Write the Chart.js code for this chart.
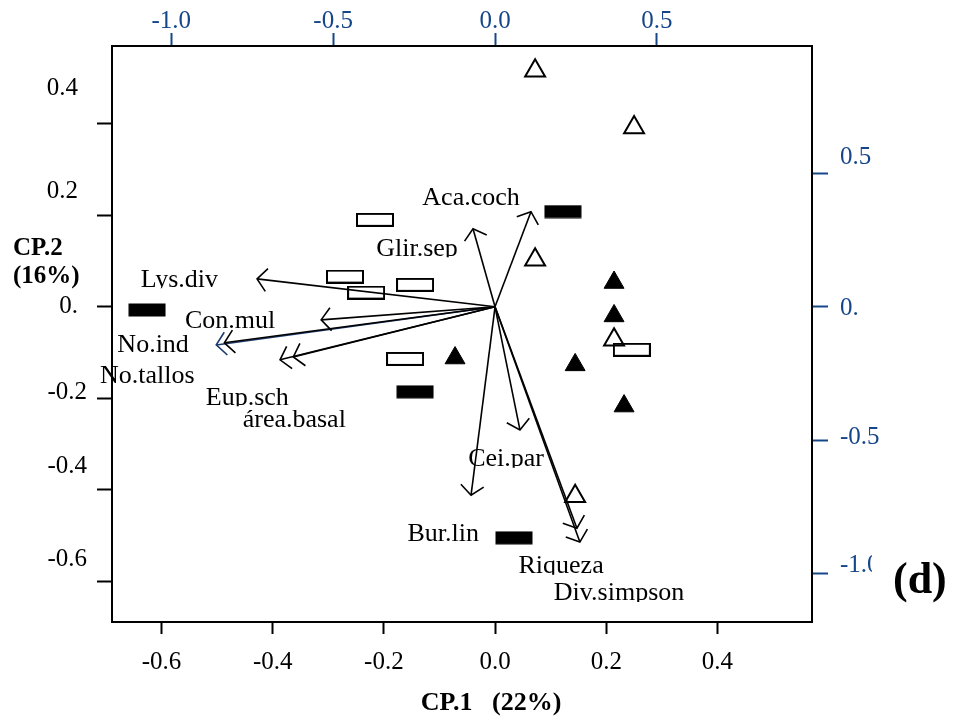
<!DOCTYPE html>
<html lang="es">
<head>
<meta charset="utf-8">
<title>Biplot CP.1 / CP.2</title>
<script src="https://cdn.jsdelivr.net/npm/chart.js@4/dist/chart.umd.min.js"></script>
<style>
  html, body { margin: 0; padding: 0; background: #fff; }
  canvas { display: block; }
</style>
</head>
<body>
<canvas id="biplot" width="954" height="718"></canvas>
<script>
// ---- axis ticks ----
const SCORE_TICKS = [-0.6, -0.4, -0.2, 0, 0.2, 0.4];
const X_TICK_LABELS = ['-0.6', '-0.4', '-0.2', '0.0', '0.2', '0.4'];
const Y_TICK_LABELS = ['-0.6', '-0.4', '-0.2', '0.', '0.2', '0.4'];
const LOAD_TICKS = [-1.0, -0.5, 0, 0.5];
const TOP_TICK_LABELS = ['-1.0', '-0.5', '0.0', '0.5'];
const RIGHT_TICK_LABELS = ['-1.0', '-0.5', '0.', '0.5'];
const SCORE_RANGE = [-0.689, 0.570];
const LOAD_RANGE = [-1.183, 0.979];

// ---- site scores (CP.1, CP.2) by group ----
const openTriX = [0.072, 0.250, 0.072, 0.214, 0.144];
const openTriY = [0.516, 0.392, 0.103, -0.072, -0.414];
const solidTriX = [0.214, 0.214, 0.144, 0.232, -0.072];
const solidTriY = [0.053, -0.020, -0.127, -0.217, -0.112];
const openRectX = [-0.270, -0.232, -0.144, -0.162, -0.216, 0.246];
const openRectY = [0.066, 0.031, 0.048, -0.114, 0.190, -0.094];
const solidRectX = [-0.626, -0.144, 0.122, 0.034];
const solidRectY = [-0.007, -0.186, 0.208, -0.505];

// ---- variable loadings ----
const varNames = ['Lys.div', 'Con.mul', 'No.ind', 'No.tallos', 'Eup.sch', 'área.basal',
                  'Glir.sep', 'Aca.coch', 'Cei.par', 'Bur.lin', 'Riqueza', 'Div.simpson'];
const varCP1 = [-0.735, -0.537, -0.861, -0.836, -0.664, -0.623, -0.068, 0.111, 0.077, -0.074, 0.253, 0.262];
const varCP2 = [0.105, -0.049, -0.143, -0.135, -0.199, -0.188, 0.293, 0.357, -0.462, -0.707, -0.831, -0.883];

// ---- layout / style ----
// text baseline anchor of each variable name, in loading units
const LABEL_AT = [
  [-0.975, 0.075], [-0.818, -0.079], [-1.056, -0.169], [-1.074, -0.286], [-0.765, -0.368], [-0.620, -0.451],
  [-0.241, 0.192], [-0.074, 0.383], [0.034, -0.598], [-0.160, -0.880], [0.204, -1.000], [0.383, -1.102]
];
const LEFT_NUDGE = [[-25, -22], [-25, -23], [-25, -6], [-34, 0], [-34, -24], [-34, -35]];
const RIGHT_NUDGE = [-8, -3, 2, -16];
const BLUE = '#16468a';
const SERIF = '"Liberation Serif", "Times New Roman", serif';
const HEAD_LEN = 15;
const HEAD_ANGLE = 50 * Math.PI / 180;

Chart.defaults.font.family = SERIF;

// flat box markers for the rectangle groups
function boxMarker(filled) {
  const c = document.createElement('canvas');
  c.width = 38;
  c.height = 14;
  const g = c.getContext('2d');
  if (filled) {
    g.fillStyle = '#000';
    g.fillRect(0.5, 0.5, 37, 13);
  } else {
    g.strokeStyle = '#000';
    g.lineWidth = 2;
    g.strokeRect(1, 1, 36, 12);
  }
  return c;
}

const toPoints = (xs, ys) => xs.map((x, i) => ({ x, y: ys[i] }));

const scoreSets = [
  { data: toPoints(openTriX, openTriY), pointStyle: 'triangle', pointRadius: 11.5,
    pointBackgroundColor: 'rgba(255,255,255,0)', pointBorderColor: '#000', pointBorderWidth: 2 },
  { data: toPoints(solidTriX, solidTriY), pointStyle: 'triangle', pointRadius: 11.5,
    pointBackgroundColor: '#000', pointBorderColor: '#000', pointBorderWidth: 1 },
  { data: toPoints(openRectX, openRectY), pointStyle: boxMarker(false), pointRadius: 6 },
  { data: toPoints(solidRectX, solidRectY), pointStyle: boxMarker(true), pointRadius: 6 }
].map(ds => ({ ...ds, xAxisID: 'x', yAxisID: 'y', showLine: false, order: 2 }));

const arrowSets = varNames.map((name, i) => ({
  label: name,
  isArrow: true,
  data: [{ x: 0, y: 0 }, { x: varCP1[i], y: varCP2[i] }],
  xAxisID: 'x2',
  yAxisID: 'y2',
  showLine: true,
  borderColor: name === 'No.ind' ? '#1d3a6b' : '#000',
  borderWidth: 1.6,
  pointRadius: 0,
  order: name === 'No.ind' ? 1 : 0
}));

// open arrowheads, variable names, side tick labels and titles
const biplotDecor = {
  id: 'biplotDecor',
  afterDatasetsDraw(chart) {
    const ctx = chart.ctx;
    chart.data.datasets.forEach((ds, i) => {
      if (!ds.isArrow) return;
      const [a, b] = chart.getDatasetMeta(i).data;
      const ang = Math.atan2(b.y - a.y, b.x - a.x);
      ctx.save();
      ctx.strokeStyle = ds.borderColor;
      ctx.lineWidth = ds.borderWidth;
      ctx.beginPath();
      ctx.moveTo(b.x - HEAD_LEN * Math.cos(ang - HEAD_ANGLE), b.y - HEAD_LEN * Math.sin(ang - HEAD_ANGLE));
      ctx.lineTo(b.x, b.y);
      ctx.lineTo(b.x - HEAD_LEN * Math.cos(ang + HEAD_ANGLE), b.y - HEAD_LEN * Math.sin(ang + HEAD_ANGLE));
      ctx.stroke();
      ctx.restore();
    });
  },
  afterDraw(chart) {
    const { ctx, chartArea: area, scales } = chart;
    ctx.save();

    // left axis labels (site scores)
    ctx.font = '25px ' + SERIF;
    ctx.textBaseline = 'middle';
    ctx.textAlign = 'right';
    ctx.fillStyle = '#000';
    SCORE_TICKS.forEach((v, i) => {
      const [dx, dy] = LEFT_NUDGE[i];
      ctx.fillText(Y_TICK_LABELS[i], area.left + dx, scales.y.getPixelForValue(v) + dy);
    });

    // right axis labels (loadings)
    ctx.textAlign = 'left';
    ctx.fillStyle = BLUE;
    LOAD_TICKS.forEach((v, i) => {
      ctx.fillText(RIGHT_TICK_LABELS[i], area.right + 28, scales.y2.getPixelForValue(v) + RIGHT_NUDGE[i]);
    });

    // variable names, cut just under the baseline
    ctx.font = '26px ' + SERIF;
    ctx.textAlign = 'center';
    ctx.textBaseline = 'alphabetic';
    ctx.fillStyle = '#000';
    varNames.forEach((name, i) => {
      const x = scales.x2.getPixelForValue(LABEL_AT[i][0]);
      const y = scales.y2.getPixelForValue(LABEL_AT[i][1]);
      const w = ctx.measureText(name).width;
      ctx.save();
      ctx.beginPath();
      ctx.rect(x - w / 2 - 2, y - 30, w + 4, 31.5);
      ctx.clip();
      ctx.fillText(name, x, y);
      ctx.restore();
    });

    // axis titles
    ctx.font = 'bold 25px ' + SERIF;
    ctx.textAlign = 'left';
    ctx.fillText('CP.2', 13, 255);
    ctx.fillText('(16%)', 13, 283);
    ctx.font = 'bold 26px ' + SERIF;
    ctx.textAlign = 'center';
    ctx.fillText('CP.1   (22%)', 491, 710);

    // panel tag
    ctx.fillStyle = '#fff';
    ctx.fillRect(872, 545, 82, 65);
    ctx.fillStyle = '#000';
    ctx.font = 'bold 44px ' + SERIF;
    ctx.textAlign = 'left';
    ctx.fillText('(d)', 893, 593);

    ctx.restore();
  }
};

const edge = (color, len) => ({
  drawOnChartArea: false, drawTicks: true, tickLength: len, tickWidth: 2, tickColor: color
});
const frame = { display: true, color: '#000', width: 2 };
const useTicks = list => scale => { scale.ticks = list.map(v => ({ value: v })); };

new Chart(document.getElementById('biplot'), {
  type: 'scatter',
  data: { datasets: [...arrowSets, ...scoreSets] },
  options: {
    responsive: false,
    animation: false,
    layout: { padding: 0 },
    plugins: { legend: { display: false }, tooltip: { enabled: false } },
    scales: {
      x: {
        type: 'linear', position: 'bottom', min: SCORE_RANGE[0], max: SCORE_RANGE[1],
        afterBuildTicks: useTicks(SCORE_TICKS),
        afterFit: s => { s.height = 96; },
        grid: edge('#000', 12),
        border: frame,
        ticks: {
          autoSkip: false, maxRotation: 0, padding: 13, color: '#000', font: { size: 25 },
          callback: v => X_TICK_LABELS[SCORE_TICKS.indexOf(v)]
        }
      },
      y: {
        type: 'linear', position: 'left', min: SCORE_RANGE[0], max: SCORE_RANGE[1],
        afterBuildTicks: useTicks(SCORE_TICKS),
        afterFit: s => { s.width = 112; },
        grid: edge('#000', 15),
        border: frame,
        ticks: { display: false, autoSkip: false }
      },
      x2: {
        type: 'linear', position: 'top', min: LOAD_RANGE[0], max: LOAD_RANGE[1],
        afterBuildTicks: useTicks(LOAD_TICKS),
        afterFit: s => { s.height = 46; },
        grid: edge(BLUE, 13),
        border: frame,
        ticks: {
          autoSkip: false, maxRotation: 0, padding: -1, color: BLUE,
          font: { size: 25, lineHeight: 1 },
          callback: v => TOP_TICK_LABELS[LOAD_TICKS.indexOf(v)]
        }
      },
      y2: {
        type: 'linear', position: 'right', min: LOAD_RANGE[0], max: LOAD_RANGE[1],
        afterBuildTicks: useTicks(LOAD_TICKS),
        afterFit: s => { s.width = 142; },
        grid: edge(BLUE, 16),
        border: frame,
        ticks: { display: false, autoSkip: false }
      }
    }
  },
  plugins: [biplotDecor]
});
</script>
</body>
</html>
